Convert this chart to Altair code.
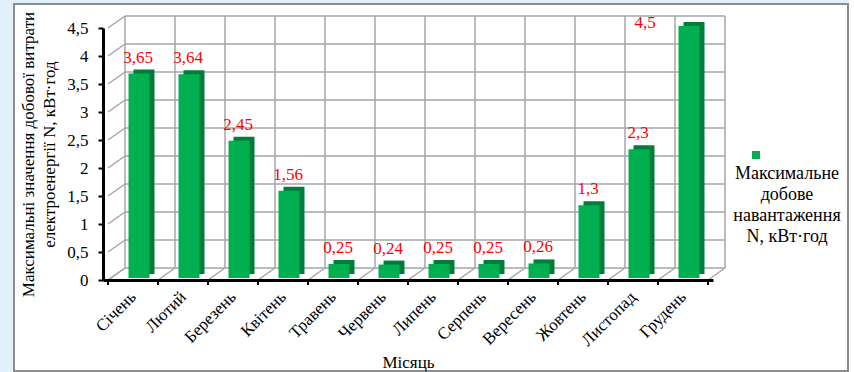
import altair as alt
import pandas as pd

# Monthly peak daily consumption, kWh
months = ["Січень", "Лютий", "Березень", "Квітень", "Травень", "Червень",
          "Липень", "Серпень", "Вересень", "Жовтень", "Листопад", "Грудень"]
values = [3.65, 3.64, 2.45, 1.56, 0.25, 0.24, 0.25, 0.25, 0.26, 1.3, 2.3, 4.5]
y_ticks = [0, 0.5, 1, 1.5, 2, 2.5, 3, 3.5, 4, 4.5]
series_name = "Максимальне добове навантаження"

n = len(months)
bars = pd.DataFrame({
    "pos": [i + 0.5 for i in range(n)],
    "month": months,
    "value": values,
    "label": [str(v).replace(".", ",") for v in values],
    "series": series_name,
})
bounds = pd.DataFrame({"b": list(range(n + 1))})
levels = pd.DataFrame({"lv": y_ticks})
y_top = max(y_ticks)

FONT = "Liberation Serif, Times New Roman, serif"
GRID = "#a6a6a6"
DX, DY = 17, -12  # depth of the pseudo-3D box

x_scale = alt.Scale(domain=[0, n], nice=False, zero=False)
y_scale = alt.Scale(domain=[0, y_top], nice=False)

label_arr = "[" + ",".join("'" + m + "'" for m in months) + "]"

x_axis = alt.Axis(
    values=[i + 0.5 for i in range(n)],
    labelExpr=label_arr + "[floor(datum.value)]",
    labelAngle=-45, labelAlign="right", labelBaseline="middle",
    labelPadding=14, labelOverlap=False, ticks=False, grid=False, zindex=2,
    domainColor="black", domainWidth=3,
    labelFont=FONT, labelFontSize=17, labelColor="black",
    title="Місяць", titleFont=FONT, titleFontSize=17, titleFontWeight="normal",
    titleColor="black", titleY=87, titleBaseline="alphabetic",
)
y_axis = alt.Axis(
    values=y_ticks,
    labelExpr="replace(format(datum.value, '~g'), '.', ',')",
    labelOverlap=False,
    grid=False, domainColor="black", domainWidth=3, zindex=2,
    tickColor="black", tickSize=5, tickWidth=2,
    labelPadding=10, labelFont=FONT, labelFontSize=17, labelColor="black",
    title=["Максимальні значення добової витрати", "електроенергії  N, кВт·год"],
    titleFont=FONT, titleFontSize=17, titleFontWeight="normal",
    titleColor="black", titleLineHeight=21, titlePadding=8,
)


def X(field):
    return alt.X(field, scale=x_scale, axis=x_axis)


def Y(field):
    return alt.Y(field, scale=y_scale, axis=y_axis)


def XD(v):
    return alt.XDatum(v, scale=x_scale, axis=x_axis)


def YD(v):
    return alt.YDatum(v, scale=y_scale, axis=y_axis)


# outer frame of the figure, and the white margin right of it
frame = alt.Chart(alt.Data(values=[{}])).mark_rect(
    fill="white", stroke="#8c8c8c", strokeWidth=2
).encode(
    x=alt.value(-89), x2=alt.value(745), y=alt.value(-24), y2=alt.value(343)
)
margin_r = alt.Chart(alt.Data(values=[{}])).mark_rect(fill="white").encode(
    x=alt.value(746), x2=alt.value(751), y=alt.value(-28), y2=alt.value(344)
)

# back wall: horizontal lines
back_h = alt.Chart(levels).mark_rule(
    color=GRID, strokeWidth=1.5, xOffset=DX, x2Offset=DX, yOffset=DY
).encode(y=Y("lv:Q"), x=XD(0), x2=alt.datum(n))

# back wall: vertical lines
back_v = alt.Chart(bounds).mark_rule(
    color=GRID, strokeWidth=1.5, xOffset=DX, yOffset=DY, y2Offset=DY
).encode(x=X("b:Q"), y=YD(0), y2=alt.datum(y_top))

# side wall depth lines
side_d = alt.Chart(levels).mark_rule(
    color=GRID, strokeWidth=1.5, x2Offset=DX, y2Offset=DY
).encode(y=Y("lv:Q"), y2="lv:Q", x=XD(0), x2=alt.datum(0))

# floor depth lines
floor_d = alt.Chart(bounds).mark_rule(
    color=GRID, strokeWidth=1.5, x2Offset=DX, y2Offset=DY
).encode(x=X("b:Q"), x2="b:Q", y=YD(0), y2=alt.datum(0))

# category tick marks under the base line
ticks = alt.Chart(bounds).mark_rule(
    color="black", strokeWidth=2, y2Offset=5
).encode(x=X("b:Q"), y=YD(0), y2=alt.datum(0))

# bar depth (side and top faces)
bar_back = alt.Chart(bars).mark_bar(
    size=21, color="#007d3a", xOffset=11, yOffset=-6, y2Offset=-6
).encode(x=X("pos:Q"), y=Y("value:Q"))

# bar front faces
bar_front = alt.Chart(bars).mark_bar(
    size=21, xOffset=6, yOffset=-2, y2Offset=-2
).encode(
    x=X("pos:Q"),
    y=Y("value:Q"),
    color=alt.Color(
        "series:N",
        scale=alt.Scale(range=["#00b050"]),
        legend=alt.Legend(
            title=["Максимальне", "добове", "навантаження", "N, кВт·год"],
            titleOrient="bottom", titleAlign="center", titleAnchor="middle",
            titleFont=FONT, titleFontSize=18, titleFontWeight="normal",
            titleColor="black", titleLineHeight=21, titlePadding=5,
            labelExpr="''", symbolType="square", symbolSize=64,
            symbolStrokeWidth=0, symbolOffset=-58,
            orient="none", legendX=630, legendY=122, padding=0,
        ),
    ),
)

# value labels above the bars
texts = alt.Chart(bars).transform_filter(
    alt.datum.value < y_top
).mark_text(
    color="#ff0000", font=FONT, fontSize=17, dx=5, dy=-13,
    baseline="alphabetic", align="center"
).encode(x=X("pos:Q"), y=Y("value:Q"), text="label:N")

# label of a bar reaching the top of the axis sits beside it, inside the plot
texts_top = alt.Chart(bars).transform_filter(
    alt.datum.value >= y_top
).mark_text(
    color="#ff0000", font=FONT, fontSize=17, dx=-38, dy=0,
    baseline="alphabetic", align="center"
).encode(x=X("pos:Q"), y=Y("value:Q"), text="label:N")

chart = alt.layer(
    frame, margin_r, back_h, back_v, side_d, floor_d,
    bar_back, bar_front, texts, texts_top, ticks
).properties(
    width=610, height=252,
    autosize=alt.AutoSizeParams(type="none"),
    padding={"left": 103, "top": 28, "right": 141, "bottom": 92},
    background="#e2f0fa",
).configure_view(
    strokeWidth=0
)

chart.save("out.html", embed_options={"renderer": "svg", "actions": False})
